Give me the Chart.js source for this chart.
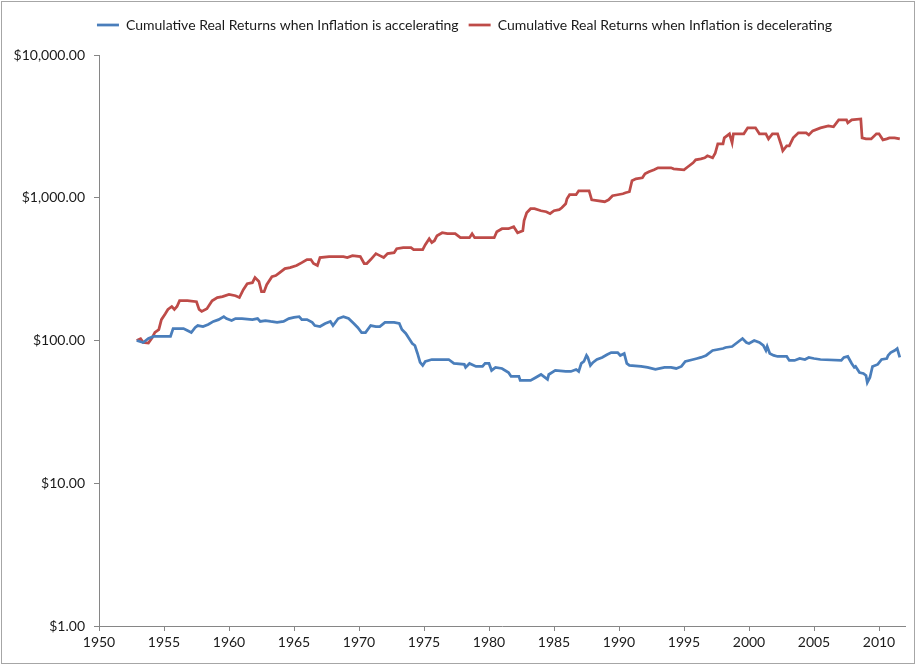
<!DOCTYPE html>
<html><head><meta charset="utf-8">
<script src="https://cdn.jsdelivr.net/npm/chart.js@4.4.0/dist/chart.umd.min.js"></script>
<style>html,body{margin:0;padding:0;background:#fff}#wrap{width:917px;height:667px;position:relative}</style>
</head><body><div id="wrap"><canvas id="c" width="917" height="667"></canvas></div>
<script>
const seriesNames = [
  "Cumulative Real Returns when Inflation is accelerating",
  "Cumulative Real Returns when Inflation is decelerating"
];
const xTickLabels = [1950,1955,1960,1965,1970,1975,1980,1985,1990,1995,2000,2005,2010];
const yTickValues = [1,10,100,1000,10000];

const accelYears = [1952.9,1953.4,1953.8,1954.2,1955.5,1955.7,1956.1,1956.5,1956.8,1957.1,1957.4,1957.6,1958.0,1958.4,1958.8,1959.2,1959.6,1959.8,1960.2,1960.5,1961.0,1961.8,1962.2,1962.4,1962.8,1963.2,1963.7,1964.2,1964.6,1965.0,1965.4,1965.6,1966.0,1966.4,1966.6,1967.0,1967.4,1967.8,1968.0,1968.4,1968.8,1969.2,1969.6,1969.9,1970.2,1970.5,1970.9,1971.3,1971.6,1972.0,1972.7,1973.1,1973.3,1973.6,1973.8,1974.1,1974.3,1974.5,1974.7,1974.9,1975.1,1975.6,1976.3,1976.9,1977.3,1978.1,1978.2,1978.5,1979.0,1979.5,1979.7,1980.0,1980.2,1980.5,1981.0,1981.5,1981.7,1982.3,1982.4,1983.2,1983.6,1984.0,1984.2,1984.5,1984.6,1985.1,1985.9,1986.3,1986.7,1986.9,1987.1,1987.3,1987.5,1987.6,1987.8,1988.0,1988.3,1988.7,1989.1,1989.4,1989.9,1990.1,1990.4,1990.6,1990.8,1991.7,1992.2,1992.8,1993.5,1994.0,1994.4,1994.8,1995.1,1995.7,1996.0,1996.3,1996.7,1997.2,1998.0,1998.2,1998.7,1999.0,1999.3,1999.5,1999.8,2000.0,2000.4,2000.8,2001.1,2001.3,2001.4,2001.6,2001.9,2002.2,2002.9,2003.1,2003.5,2003.9,2004.3,2004.6,2005.0,2005.5,2007.1,2007.3,2007.6,2007.9,2008.1,2008.2,2008.5,2008.8,2009.0,2009.1,2009.3,2009.5,2009.9,2010.2,2010.6,2010.7,2010.9,2011.2,2011.4,2011.6];
const accelValues = [100,96.8,103.3,106.7,106.7,121.3,121.3,121.3,117.5,113.7,123.3,127.3,125.3,129.4,136,140,147,142.5,138,142.5,142.5,140,142.5,136,138,136,134,136,142.5,145,147,140,140,134,127.3,125.3,131.5,136,127.3,142.5,147,142.5,131.5,123.3,113.7,113.7,127.3,125.3,125.3,134,134,131.5,119.4,112,105,95.3,92.3,81.1,70.2,66.9,71.3,73.6,73.6,73.6,69.1,68.0,64.8,69.1,65.8,65.8,69.1,69.1,61.7,64.8,63.7,59.7,56.0,56.0,52.5,52.5,55.1,57.8,56.0,53.4,57.8,61.7,60.7,60.7,62.7,60.7,69.1,71.3,78.6,76.1,66.9,70.2,73.6,76.1,79.8,82.4,82.4,78.6,81.1,69.1,66.9,65.8,64.8,62.7,64.8,64.8,63.7,65.8,71.3,73.6,74.8,76.1,78.6,85.1,87.9,89.3,90.8,95.3,100,103.3,96.8,95.3,100,96.8,92.3,85.1,90.8,81.1,78.6,77.3,77.3,72.5,72.5,74.8,73.6,76.1,74.8,73.6,72.5,76.1,77.3,69.1,64.8,65.8,59.7,58.8,56.9,50.8,55.1,65.8,68.0,73.6,74.8,78.6,82.4,85.1,87.9,76.1];

const decelYears = [1952.9,1953.2,1953.4,1953.8,1954.1,1954.3,1954.6,1954.8,1955.1,1955.3,1955.6,1955.8,1956.0,1956.2,1956.8,1957.5,1957.7,1957.9,1958.3,1958.7,1959.1,1959.5,1960.0,1960.5,1960.8,1961.1,1961.4,1961.8,1962.0,1962.3,1962.5,1962.7,1962.9,1963.3,1963.6,1963.9,1964.3,1964.7,1965.2,1965.6,1966.0,1966.3,1966.5,1966.8,1967.0,1967.7,1968.8,1969.1,1969.5,1970.1,1970.4,1970.6,1970.9,1971.3,1971.6,1971.9,1972.2,1972.7,1972.9,1973.4,1974.0,1974.2,1974.9,1975.1,1975.4,1975.6,1975.8,1976.0,1976.4,1976.8,1977.4,1977.8,1978.5,1978.7,1978.9,1980.4,1980.6,1981.0,1981.5,1981.9,1982.2,1982.6,1982.7,1982.9,1983.2,1983.5,1984.0,1984.4,1984.7,1985.0,1985.4,1985.6,1985.9,1986.0,1986.2,1986.7,1986.9,1987.7,1987.9,1988.9,1989.2,1989.5,1989.9,1990.3,1990.5,1990.8,1991.0,1991.3,1991.8,1992.0,1992.3,1992.7,1993.0,1994.0,1994.2,1995.0,1995.3,1995.7,1995.9,1996.3,1996.6,1996.8,1997.2,1997.4,1997.6,1998.0,1998.1,1998.5,1998.7,1998.8,1999.6,1999.9,2000.5,2000.8,2001.3,2001.5,2001.8,2002.2,2002.5,2002.6,2002.9,2003.1,2003.4,2003.8,2004.4,2004.6,2004.9,2005.5,2006.1,2006.5,2006.9,2007.5,2007.6,2007.9,2008.6,2008.7,2009.0,2009.4,2009.8,2010.0,2010.3,2010.6,2010.8,2011.2,2011.6];
const decelValues = [100,103,97,96,105,114,119,140,154,165,173,165,173,190,190,187,165,160,167,190,200,203,210,206,200,227,250,254,276,259,220,220,246,280,285,299,319,324,335,351,369,369,346,335,381,387,387,381,393,387,346,346,369,406,393,381,406,412,440,447,447,433,433,469,517,485,500,542,569,560,560,525,525,560,525,525,578,607,607,627,569,588,691,785,838,838,811,798,773,811,825,851,908,984,1050,1050,1119,1119,968,938,968,1033,1050,1067,1084,1102,1315,1358,1380,1472,1520,1570,1621,1621,1595,1570,1648,1757,1844,1874,1904,1967,1904,2050,2385,2385,2628,2803,2424,2803,2803,3087,3087,2803,2803,2585,2803,2803,2310,2132,2310,2310,2628,2850,2850,2758,2941,3087,3188,3138,3512,3512,3345,3512,3567,2628,2585,2585,2803,2803,2544,2585,2628,2628,2585];

const FONT = "Lato, 'Open Sans', sans-serif";
const TEXT = '#1a1a1a';
const AXIS = '#868686';

function pts(xs, ys){ return xs.map((x,i)=>({x:x, y:ys[i]})); }

const frame = {
  id:'frame',
  afterInit(chart){
    const lg = chart.legend;
    if (lg && !lg._patched) {
      const fit = lg.fit;
      lg.fit = function(){ fit.call(this); this.height += 13; };
      const draw = lg.draw;
      lg.draw = function(){ const c = this.ctx; c.save(); c.translate(12,0); draw.call(this); c.restore(); };
      lg._patched = true;
    }
  },
  beforeDraw(chart){ const c=chart.ctx; c.save(); c.fillStyle='#fff'; c.fillRect(0,0,chart.width,chart.height); c.restore(); },
  afterDraw(chart){ const c=chart.ctx; c.save(); c.strokeStyle='#a6a6a6'; c.lineWidth=1; c.strokeRect(1.5,1.5,913,662); c.restore(); }
};

new Chart(document.getElementById('c'), {
  type:'line',
  data:{ datasets:[
    {label:seriesNames[0], data:pts(accelYears,accelValues), borderColor:'#4a7ebb', backgroundColor:'#4a7ebb', borderWidth:2.75, pointRadius:0, tension:0},
    {label:seriesNames[1], data:pts(decelYears,decelValues), borderColor:'#be4b48', backgroundColor:'#be4b48', borderWidth:2.75, pointRadius:0, tension:0}
  ]},
  options:{
    responsive:false, animation:false, events:[],
    layout:{padding:{top:8,right:12,left:0,bottom:0}},
    plugins:{
      legend:{position:'top', labels:{usePointStyle:true, pointStyle:'line', pointStyleWidth:22, font:{family:FONT,size:14}, color:TEXT, padding:10}},
      tooltip:{enabled:false}
    },
    scales:{
      x:{type:'linear', min:1950, max:2012,
        afterBuildTicks:(s)=>{ s.ticks = xTickLabels.map(v=>({value:v})); },
        afterFit:(s)=>{ s.height = 41; },
        ticks:{callback:(v)=>String(v), font:{family:FONT,size:14}, color:TEXT, padding:3, maxRotation:0, autoSkip:false},
        grid:{display:true, drawOnChartArea:false, drawTicks:true, tickLength:5, color:AXIS},
        border:{display:true, color:AXIS}
      },
      y:{type:'logarithmic', min:1, max:10000,
        afterBuildTicks:(s)=>{ s.ticks = yTickValues.map(v=>({value:v})); },
        afterFit:(s)=>{ s.width = 99; },
        ticks:{callback:(v)=>'$'+Number(v).toLocaleString('en-US',{minimumFractionDigits:2,maximumFractionDigits:2}), font:{family:FONT,size:14}, color:TEXT, padding:9, autoSkip:false},
        grid:{display:true, drawOnChartArea:false, drawTicks:true, tickLength:5, color:AXIS},
        border:{display:true, color:AXIS}
      }
    }
  },
  plugins:[frame]
});
</script></body></html>
